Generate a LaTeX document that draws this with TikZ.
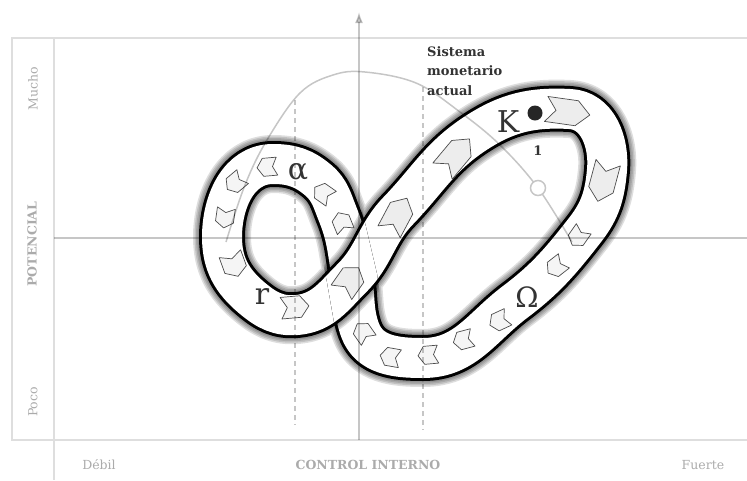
\documentclass[tikz,border=0pt]{standalone}
\usepackage{fontspec}
\setmainfont{DejaVu Serif}
\usetikzlibrary{arrows.meta,calc}

\definecolor{ejes}{HTML}{C6C6C6}
\definecolor{marco}{HTML}{DEDEDE}
\definecolor{rotulo}{HTML}{ABABAB}
\definecolor{tinta}{HTML}{333333}
\definecolor{relleno}{HTML}{EDEDED}

\tikzset{
  eje/.style={ejes, line width=1.5pt, blend mode=multiply},
  guia/.style={ejes, line width=1.3pt, dash pattern=on 5pt off 4pt, blend mode=multiply},
  rotulo/.style={text=rotulo, font=\fontsize{12.5}{15}\selectfont, inner sep=0pt},
  letra/.style={text=tinta, font=\fontsize{30}{30}\selectfont, inner sep=0pt},
  flechita/.style={draw=black!70, line width=0.7pt, line join=round},
}

% one notched arrow of the ribbon: x, y (pixels, y down), angle, length, width
\newcommand{\flecha}[6]{%
  \draw[flechita, fill=#6, shift={(#1,-#2)}, rotate=#3, xscale=#4, yscale=#5]
    (-1,0.6) -- (0.4,0.6) -- (1,0) -- (0.4,-0.6) -- (-1,-0.6) -- (-0.55,0) -- cycle;}

\begin{document}
\begin{tikzpicture}[x=1pt,y=1pt]
  \useasboundingbox (0,0) rectangle (747,-480);
  % frame
  \draw[marco, line width=2pt] (747,-38) -- (12,-38) -- (12,-440) -- (747,-440);
  \draw[marco, line width=2pt] (54,-38) -- (54,-480);

  % centre line of the ribbon (figure eight), pixel coordinates
  \coordinate (c0) at (297,-315);   % r
  \coordinate (c1) at (352,-278);   % crossing, upper strand
  \coordinate (c2) at (398,-211);
  \coordinate (c3) at (476,-133);
  \coordinate (c4) at (570,-109);   % K
  \coordinate (c5) at (607,-170);
  \coordinate (c6) at (585,-230);
  \coordinate (c7) at (515,-302);   % Omega
  \coordinate (c8) at (423,-358);
  \coordinate (c9) at (360,-330);
  \coordinate (c10) at (352,-278);  % crossing, lower strand
  \coordinate (c11) at (338,-215);
  \coordinate (c12) at (318,-180);
  \coordinate (c13) at (273,-164);  % alpha
  \coordinate (c14) at (222,-237);
  \coordinate (c15) at (252,-298);
  \def\banda{(c0) to[out=5,in=225] (c1) to[out=45,in=226] (c2) to[out=46,in=213] (c3)
    to[out=33,in=177] (c4) to[out=-3,in=85] (c5) to[out=-95,in=52] (c6)
    to[out=-128,in=37] (c7) to[out=-143,in=0] (c8) to[out=180,in=-70] (c9)
    to[out=110,in=-80] (c10) to[out=100,in=-68] (c11) to[out=112,in=-40] (c12)
    to[out=140,in=0] (c13) to[out=180,in=90] (c14) to[out=270,in=140] (c15)
    to[out=-40,in=185] (c0) -- cycle}
  \def\puente{(c15) to[out=-40,in=185] (c0) to[out=5,in=225] (c1)
    to[out=45,in=226] (c2) to[out=46,in=213] (c3)}

  % ribbon: soft shadow, black rim, white body
  \foreach \g in {4,...,1}
    \draw[black, opacity=0.13, line width={46+3*\g}, line join=round] \banda;
  \draw[black, line width=46, line join=round] \banda;
  \draw[white, line width=40, line join=round] \banda;
  % upper strand over the crossing
  \begin{scope}
    \clip (361,-206) -- (377,-274) -- (384,-321) -- (337,-339) -- (327,-282) -- (315,-224) -- cycle;
    \foreach \g in {4,...,1}
      \draw[black, opacity=0.13, line width={46+3*\g}, line join=round] \puente;
    \draw[black, line width=46, line join=round] \puente;
    \draw[white, line width=40, line join=round] \puente;
  \end{scope}

  % arrows along the ribbon
  \foreach \x/\y/\a in {342/222/112, 323/193/145, 267/167/185, 235/183/220,
      225/218/262, 578/237/235, 556/267/218, 499/321/205, 463/340/195,
      428/355/185, 390/357/170, 363/332/125}
    \flecha{\x}{\y}{\a}{10}{15}{white!96!black};
  \flecha{234}{265}{290}{12}{19}{white!96!black}
  \flecha{295}{307}{5}{14}{18}{white!96!black}
  \foreach \x/\y/\a/\l in {350/280/55/15, 398/215/62/19, 456/155/50/21,
      568/112/-8/22, 603/182/-105/20}
    \flecha{\x}{\y}{\a}{\l}{21}{relleno};

  % axes, guides and trajectory (seen through the ribbon)
  \draw[eje, -{Latex[length=11pt,width=8pt]}] (359,-440) -- (359,-12);
  \draw[eje] (54,-238) -- (747,-238);
  \draw[guia] (295,-100) -- (295,-425);
  \draw[guia] (423,-87) -- (423,-430);
  \draw[eje] plot[smooth, tension=0.6] coordinates {(226,-242) (245,-185) (267,-140)
    (300,-93) (333,-75) (365,-72) (416,-83) (460,-112) (500,-145) (538,-188) (572,-242)};
  \node[circle, draw=ejes, line width=1.5pt, fill=white, minimum size=15pt, inner sep=0pt]
    (estado) at (538,-188) {};

  % axis labels
  \node[rotulo, rotate=90] (mucho) at (33,-89) {Mucho};
  \node[rotulo, rotate=90, font=\fontsize{12.5}{15}\selectfont\bfseries] (potencial) at (32,-244) {POTENCIAL};
  \node[rotulo, rotate=90] (poco) at (33,-402) {Poco};
  \node[rotulo] (debil) at (99,-465) {Débil};
  \node[rotulo, font=\fontsize{12.5}{15}\selectfont\bfseries] (control) at (368,-465) {CONTROL INTERNO};
  \node[rotulo] (fuerte) at (703,-465) {Fuerte};

  % phases
  \node[fill=black!85, circle, minimum size=15pt, inner sep=0pt] (punto) at (535,-113) {};
  \node[letra] (k) at (508,-122) {K};
  \node[text=tinta, font=\fontsize{13}{13}\selectfont\bfseries, inner sep=0pt] (uno) at (538,-151) {1};
  \node[letra] (alfa) at (298,-172) {α};
  \node[letra, font=\fontsize{28}{28}\selectfont] (omega) at (527,-297) {Ω};
  \node[letra] (r) at (262,-296) {r};
  \node[text=tinta, font=\fontsize{13}{19.5}\selectfont\bfseries, align=left, anchor=north west,
    inner sep=0pt] (sistema) at (427,-46) {Sistema\\monetario\\actual};
\end{tikzpicture}
\end{document}
